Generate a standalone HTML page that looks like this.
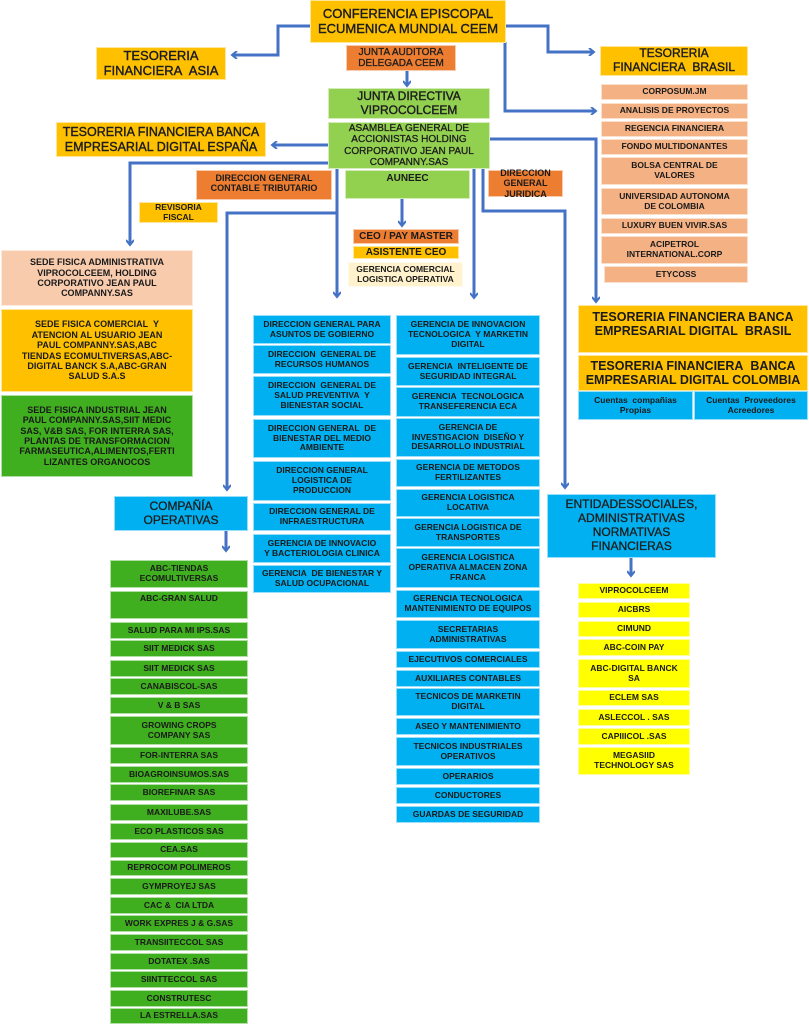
<!DOCTYPE html>
<html><head><meta charset="utf-8"><style>
body{margin:0;width:809px;height:1024px;background:#fff;position:relative;overflow:hidden;font-family:"Liberation Sans",sans-serif;}
.b{position:absolute;display:flex;align-items:center;justify-content:center;text-align:center;font-weight:bold;color:#1a1a1a;box-sizing:border-box;line-height:1.15;border:1px solid rgba(255,255,255,.6);font-size:8.5px;}
.o{background:#ffc000}.r{background:#ed7d31}.g{background:#92d050}.G{background:#3faf1f}.p{background:#f4b183}.s{background:#f8cbad}.c{background:#fff2cc}.u{background:#00b0f0}.y{background:#ffff00}
svg{position:absolute;left:0;top:0}
</style></head><body>
<svg width="809" height="1024"><defs><marker id="a" markerWidth="8" markerHeight="8" refX="6" refY="4" orient="auto" markerUnits="userSpaceOnUse"><path d="M1,0 L6,4 L1,8" fill="none" stroke="#4472c4" stroke-width="2"/></marker></defs>
<g fill="none" stroke="#4472c4" stroke-width="3">
<polyline points="310,26 278,26 278,55 232,55" marker-end="url(#a)"/>
<polyline points="506,26 548,26 548,52 594,52" marker-end="url(#a)"/>
<polyline points="505,42 505,111 596,111" marker-end="url(#a)"/>
<polyline points="407,71 407,86" marker-end="url(#a)"/>
<polyline points="328,145 272,145" marker-end="url(#a)"/>
<polyline points="328,163 130,163 130,245" marker-end="url(#a)"/>
<polyline points="337,168 337,297" marker-end="url(#a)"/>
<polyline points="337,213 227,213 227,490" marker-end="url(#a)"/>
<polyline points="402,198 402,226" marker-end="url(#a)"/>
<polyline points="474,168 474,298" marker-end="url(#a)"/>
<polyline points="483,168 483,211 565,211 565,488" marker-end="url(#a)"/>
<polyline points="488,139 596,139 596,302" marker-end="url(#a)"/>
<polyline points="631,557 631,576" marker-end="url(#a)"/>
<polyline points="226,530 226,551" marker-end="url(#a)"/>
</g></svg>

<div class="b o" style="left:310px;top:0;width:196px;height:43px;font-size:13px;font-weight:normal;-webkit-text-stroke:.4px #222">CONFERENCIA EPISCOPAL<br>ECUMENICA MUNDIAL CEEM</div>
<div class="b o" style="left:96px;top:47px;width:130px;height:33px;font-size:13px;font-weight:normal;-webkit-text-stroke:.4px #222">TESORERIA<br>FINANCIERA&nbsp; ASIA</div>
<div class="b o" style="left:600px;top:46px;width:148px;height:30px;font-size:12px;font-weight:normal;-webkit-text-stroke:.4px #222">TESORERIA<br>FINANCIERA&nbsp; BRASIL</div>
<div class="b r" style="left:346px;top:45px;width:110px;height:26px;font-size:10px;font-weight:normal;-webkit-text-stroke:.3px #222">JUNTA AUDITORA<br>DELEGADA CEEM</div>
<div class="b g" style="left:328px;top:88px;width:162px;height:31px;font-size:12px;font-weight:normal;-webkit-text-stroke:.4px #222">JUNTA DIRECTIVA<br>VIPROCOLCEEM</div>
<div class="b g" style="left:328px;top:122px;width:162px;height:47px;font-size:10px;font-weight:normal;-webkit-text-stroke:.3px #222">ASAMBLEA GENERAL DE<br>ACCIONISTAS HOLDING<br>CORPORATIVO JEAN PAUL<br>COMPANNY.SAS</div>
<div class="b o" style="left:56px;top:122px;width:210px;height:35px;font-size:12.5px;font-weight:normal;-webkit-text-stroke:.4px #222">TESORERIA FINANCIERA BANCA<br>EMPRESARIAL DIGITAL ESPAÑA</div>
<div class="b r" style="left:196px;top:170px;width:136px;height:30px;font-size:9px;align-items:flex-start;padding-top:2px">DIRECCION GENERAL<br>CONTABLE TRIBUTARIO</div>
<div class="b g" style="left:345px;top:170px;width:125px;height:29px;font-size:10px;align-items:flex-start;padding-top:2px">AUNEEC</div>
<div class="b r" style="left:488px;top:170px;width:75px;height:27px;font-size:9px">DIRECCION<br>GENERAL JURIDICA</div>
<div class="b o" style="left:139px;top:202px;width:79px;height:21px;font-size:8.5px">REVISORIA<br>FISCAL</div>
<div class="b r" style="left:353px;top:229px;width:106px;height:15px;font-size:10px">CEO / PAY MASTER</div>
<div class="b o" style="left:353px;top:246px;width:106px;height:13px;font-size:10px">ASISTENTE CEO</div>
<div class="b c" style="left:348px;top:262px;width:115px;height:25px;font-size:8.5px">GERENCIA COMERCIAL<br>LOGISTICA OPERATIVA</div>

<div class="b p" style="left:601px;top:84px;width:147px;height:16px">CORPOSUM.JM</div>
<div class="b p" style="left:601px;top:103px;width:147px;height:16px">ANALISIS DE PROYECTOS</div>
<div class="b p" style="left:601px;top:121px;width:147px;height:16px">REGENCIA FINANCIERA</div>
<div class="b p" style="left:601px;top:139px;width:147px;height:16px">FONDO MULTIDONANTES</div>
<div class="b p" style="left:601px;top:157px;width:147px;height:28px">BOLSA CENTRAL DE<br>VALORES</div>
<div class="b p" style="left:601px;top:188px;width:147px;height:27px">UNIVERSIDAD AUTONOMA<br>DE COLOMBIA</div>
<div class="b p" style="left:601px;top:218px;width:147px;height:16px">LUXURY BUEN VIVIR.SAS</div>
<div class="b p" style="left:601px;top:236px;width:147px;height:28px">ACIPETROL<br>INTERNATIONAL.CORP</div>
<div class="b p" style="left:604px;top:266px;width:144px;height:17px">ETYCOSS</div>

<div class="b s" style="left:1px;top:250px;width:192px;height:56px;font-size:9px">SEDE FISICA ADMINISTRATIVA<br>VIPROCOLCEEM, HOLDING<br>CORPORATIVO JEAN PAUL<br>COMPANNY.SAS</div>
<div class="b o" style="left:1px;top:309px;width:192px;height:83px;font-size:9px">SEDE FISICA COMERCIAL&nbsp; Y<br>ATENCION AL USUARIO JEAN<br>PAUL COMPANNY.SAS,ABC<br>TIENDAS ECOMULTIVERSAS,ABC-<br>DIGITAL BANCK S.A,ABC-GRAN<br>SALUD S.A.S</div>
<div class="b G" style="left:1px;top:395px;width:192px;height:82px;font-size:9px">SEDE FISICA INDUSTRIAL JEAN<br>PAUL COMPANNY.SAS,SIIT MEDIC<br>SAS, V&amp;B SAS, FOR INTERRA SAS,<br>PLANTAS DE TRANSFORMACION<br>FARMASEUTICA,ALIMENTOS,FERTI<br>LIZANTES ORGANOCOS</div>

<div class="b u" style="left:253px;top:315px;width:138px;height:29px">DIRECCION GENERAL PARA<br>ASUNTOS DE GOBIERNO</div>
<div class="b u" style="left:253px;top:345px;width:138px;height:29px">DIRECCION&nbsp; GENERAL DE<br>RECURSOS HUMANOS</div>
<div class="b u" style="left:253px;top:376px;width:138px;height:40px">DIRECCION&nbsp; GENERAL DE<br>SALUD PREVENTIVA&nbsp; Y<br>BIENESTAR SOCIAL</div>
<div class="b u" style="left:253px;top:419px;width:138px;height:39px">DIRECCION GENERAL&nbsp; DE<br>BIENESTAR DEL MEDIO<br>AMBIENTE</div>
<div class="b u" style="left:253px;top:461px;width:138px;height:40px">DIRECCION GENERAL<br>LOGISTICA DE<br>PRODUCCION</div>
<div class="b u" style="left:253px;top:503px;width:138px;height:28px">DIRECCION GENERAL DE<br>INFRAESTRUCTURA</div>
<div class="b u" style="left:253px;top:534px;width:138px;height:29px">GERENCIA DE INNOVACIO<br>Y BACTERIOLOGIA CLINICA</div>
<div class="b u" style="left:253px;top:565px;width:138px;height:28px">GERENCIA&nbsp; DE BIENESTAR Y<br>SALUD OCUPACIONAL</div>

<div class="b u" style="left:396px;top:315px;width:144px;height:40px">GERENCIA DE INNOVACION<br>TECNOLOGICA&nbsp; Y MARKETIN<br>DIGITAL</div>
<div class="b u" style="left:396px;top:357px;width:144px;height:29px">GERENCIA&nbsp; INTELIGENTE DE<br>SEGURIDAD INTEGRAL</div>
<div class="b u" style="left:396px;top:387px;width:144px;height:30px">GERENCIA&nbsp; TECNOLOGICA<br>TRANSEFERENCIA ECA</div>
<div class="b u" style="left:396px;top:418px;width:144px;height:39px">GERENCIA DE<br>INVESTIGACION&nbsp; DISEÑO Y<br>DESARROLLO INDUSTRIAL</div>
<div class="b u" style="left:396px;top:459px;width:144px;height:28px">GERENCIA DE METODOS<br>FERTILIZANTES</div>
<div class="b u" style="left:396px;top:489px;width:144px;height:28px">GERENCIA LOGISTICA<br>LOCATIVA</div>
<div class="b u" style="left:396px;top:518px;width:144px;height:29px">GERENCIA LOGISTICA DE<br>TRANSPORTES</div>
<div class="b u" style="left:396px;top:548px;width:144px;height:40px">GERENCIA LOGISTICA<br>OPERATIVA ALMACEN ZONA<br>FRANCA</div>
<div class="b u" style="left:396px;top:590px;width:144px;height:28px">GERENCIA TECNOLOGICA<br>MANTENIMIENTO DE EQUIPOS</div>
<div class="b u" style="left:396px;top:620px;width:144px;height:29px">SECRETARIAS<br>ADMINISTRATIVAS</div>
<div class="b u" style="left:396px;top:651px;width:144px;height:17px">EJECUTIVOS COMERCIALES</div>
<div class="b u" style="left:396px;top:670px;width:144px;height:17px">AUXILIARES CONTABLES</div>
<div class="b u" style="left:396px;top:688px;width:144px;height:28px">TECNICOS DE MARKETIN<br>DIGITAL</div>
<div class="b u" style="left:396px;top:718px;width:144px;height:17px">ASEO Y MANTENIMIENTO</div>
<div class="b u" style="left:396px;top:737px;width:144px;height:29px">TECNICOS INDUSTRIALES<br>OPERATIVOS</div>
<div class="b u" style="left:396px;top:768px;width:144px;height:17px">OPERARIOS</div>
<div class="b u" style="left:396px;top:787px;width:144px;height:17px">CONDUCTORES</div>
<div class="b u" style="left:396px;top:806px;width:144px;height:17px">GUARDAS DE SEGURIDAD</div>

<div class="b u" style="left:114px;top:496px;width:134px;height:35px;font-size:12px;font-weight:normal;-webkit-text-stroke:.3px #222">COMPAÑÍA<br>OPERATIVAS</div>

<div class="b G" style="left:110px;top:560px;width:138px;height:28px">ABC-TIENDAS<br>ECOMULTIVERSAS</div>
<div class="b G" style="left:110px;top:591px;width:138px;height:28px;align-items:flex-start;padding-top:2px">ABC-GRAN SALUD</div>
<div class="b G" style="left:110px;top:622px;width:138px;height:17px">SALUD PARA MI IPS.SAS</div>
<div class="b G" style="left:110px;top:640px;width:138px;height:17px">SIIT MEDICK SAS</div>
<div class="b G" style="left:110px;top:660px;width:138px;height:17px">SIIT MEDICK SAS</div>
<div class="b G" style="left:110px;top:678px;width:138px;height:17px">CANABISCOL-SAS</div>
<div class="b G" style="left:110px;top:697px;width:138px;height:17px">V &amp; B SAS</div>
<div class="b G" style="left:110px;top:716px;width:138px;height:29px">GROWING CROPS<br>COMPANY SAS</div>
<div class="b G" style="left:110px;top:747px;width:138px;height:17px">FOR-INTERRA SAS</div>
<div class="b G" style="left:110px;top:766px;width:138px;height:17px">BIOAGROINSUMOS.SAS</div>
<div class="b G" style="left:110px;top:784px;width:138px;height:17px">BIOREFINAR SAS</div>
<div class="b G" style="left:110px;top:804px;width:138px;height:17px">MAXILUBE.SAS</div>
<div class="b G" style="left:110px;top:823px;width:138px;height:17px">ECO PLASTICOS SAS</div>
<div class="b G" style="left:110px;top:842px;width:138px;height:16px">CEA.SAS</div>
<div class="b G" style="left:110px;top:860px;width:138px;height:16px">REPROCOM POLIMEROS</div>
<div class="b G" style="left:110px;top:878px;width:138px;height:17px">GYMPROYEJ SAS</div>
<div class="b G" style="left:110px;top:897px;width:138px;height:17px">CAC &amp;&nbsp; CIA LTDA</div>
<div class="b G" style="left:110px;top:915px;width:138px;height:17px">WORK EXPRES J &amp; G.SAS</div>
<div class="b G" style="left:110px;top:934px;width:138px;height:17px">TRANSIITECCOL SAS</div>
<div class="b G" style="left:110px;top:953px;width:138px;height:17px">DOTATEX .SAS</div>
<div class="b G" style="left:110px;top:971px;width:138px;height:17px">SIINTTECCOL SAS</div>
<div class="b G" style="left:110px;top:990px;width:138px;height:17px">CONSTRUTESC</div>
<div class="b G" style="left:110px;top:1008px;width:138px;height:16px">LA ESTRELLA.SAS</div>

<div class="b o" style="left:578px;top:305px;width:230px;height:48px;font-size:12.5px;align-items:flex-start;padding-top:4px">TESORERIA FINANCIERA BANCA<br>EMPRESARIAL DIGITAL&nbsp; BRASIL</div>
<div class="b o" style="left:578px;top:355px;width:230px;height:36px;font-size:12.5px">TESORERIA FINANCIERA&nbsp; BANCA<br>EMPRESARIAL DIGITAL COLOMBIA</div>
<div class="b u" style="left:578px;top:391px;width:115px;height:29px;font-size:8.5px">Cuentas&nbsp; compañias<br>Propias</div>
<div class="b u" style="left:694px;top:391px;width:114px;height:29px;font-size:8.5px">Cuentas&nbsp; Proveedores<br>Acreedores</div>

<div class="b u" style="left:547px;top:494px;width:169px;height:64px;font-size:12px;font-weight:normal;-webkit-text-stroke:.3px #222">ENTIDADESSOCIALES,<br>ADMINISTRATIVAS<br>NORMATIVAS<br>FINANCIERAS</div>
<div class="b y" style="left:578px;top:583px;width:112px;height:16px">VIPROCOLCEEM</div>
<div class="b y" style="left:578px;top:602px;width:112px;height:16px">AICBRS</div>
<div class="b y" style="left:578px;top:621px;width:112px;height:16px">CIMUND</div>
<div class="b y" style="left:578px;top:639px;width:112px;height:17px">ABC-COIN PAY</div>
<div class="b y" style="left:578px;top:659px;width:112px;height:29px">ABC-DIGITAL BANCK<br>SA</div>
<div class="b y" style="left:578px;top:690px;width:112px;height:16px">ECLEM SAS</div>
<div class="b y" style="left:578px;top:709px;width:112px;height:17px">ASLECCOL . SAS</div>
<div class="b y" style="left:578px;top:728px;width:112px;height:17px">CAPIIICOL .SAS</div>
<div class="b y" style="left:578px;top:747px;width:112px;height:28px">MEGASIID<br>TECHNOLOGY SAS</div>
</body></html>
